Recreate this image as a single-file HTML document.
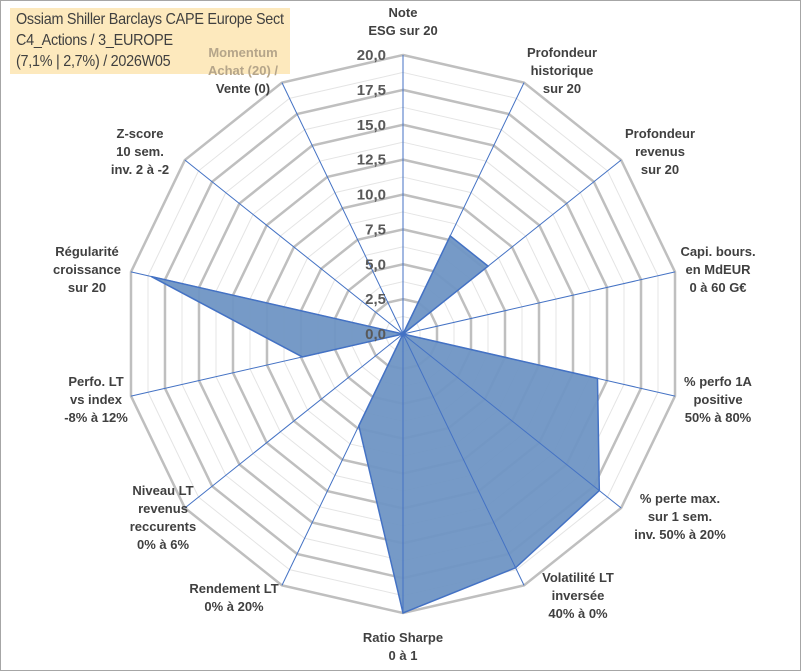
<!DOCTYPE html>
<html><head><meta charset="utf-8"><style>
body{margin:0;background:#fff;font-family:"Liberation Sans",Arial,sans-serif}
#wrap{position:relative;width:801px;height:671px;overflow:hidden;font-family:"Liberation Sans",Arial,sans-serif}
svg{position:absolute;left:0;top:0}
</style></head><body>
<div id="wrap">
<svg id="chart" width="801" height="671"></svg>
<div style="position:absolute;left:16px;top:9px;font-family:'Liberation Sans',Arial,sans-serif;font-size:16px;line-height:21px;color:#404040;letter-spacing:-0.3px;transform:scaleX(0.9);transform-origin:left top;white-space:nowrap">Ossiam Shiller Barclays CAPE Europe Sect<br>C4_Actions / 3_EUROPE<br>(7,1% | 2,7%) / 2026W05</div>
</div>
<script>
const categories=[["Note","ESG sur 20"],["Profondeur","historique","sur 20"],["Profondeur","revenus","sur 20"],["Capi. bours.","en MdEUR","0 à 60 G€"],["% perfo 1A","positive","50% à 80%"],["% perte max.","sur 1 sem.","inv. 50% à 20%"],["Volatilité LT","inversée","40% à 0%"],["Ratio Sharpe","0 à 1"],["Rendement LT","0% à 20%"],["Niveau LT","revenus","reccurents","0% à 6%"],["Perfo. LT","vs index","-8% à 12%"],["Régularité","croissance","sur 20"],["Z-score","10 sem.","inv. 2 à -2"],["Momentum","Achat (20) /","Vente (0)"]];
const values=[0,7.8,7.8,0,14.3,18,18.6,20,7.3,0,7.4,18.5,0,0];
const tickLabels=["0,0","2,5","5,0","7,5","10,0","12,5","15,0","17,5","20,0"];
const maxV=20;
const labelPos=[[403,12],[562,52],[660,133],[718,251],[718,381],[680,498],[578,577],[403,637],[234,588],[163,490],[96,381],[87,251],[140,133],[243,52]];
const NS="http://www.w3.org/2000/svg";
const svg=document.getElementById('chart');
const cx=403,cy=334,R=279,N=categories.length;
function pt(i,v){const a=i*2*Math.PI/N;const r=v/maxV*R;return [cx+r*Math.sin(a),cy-r*Math.cos(a)];}
function mk(t,attrs,parent){const e=document.createElementNS(NS,t);for(const k in attrs)e.setAttribute(k,attrs[k]);(parent||svg).appendChild(e);return e;}
let e=mk('rect',{x:0.5,y:0.5,width:800,height:670,fill:'#fff',stroke:'#a6a6a6'});


e=mk('rect',{x:10,y:8,width:280,height:66,fill:'#fde9bd'});


for(let k=1;k<16;k+=2){const v=k*1.25;const p=[];for(let i=0;i<N;i++)p.push(pt(i,v).join(','));
e=mk('polygon',{points:p.join(' '),fill:'none',stroke:'#e4e4e4','stroke-width':1});

}
for(let k=1;k<tickLabels.length;k++){const v=k*2.5;const p=[];for(let i=0;i<N;i++)p.push(pt(i,v).join(','));
e=mk('polygon',{points:p.join(' '),fill:'none',stroke:'#bfbfbf','stroke-width':2.5});

}
const sp=values.map((v,i)=>pt(i,v).join(',')).join(' ');
e=mk('polygon',{points:sp,fill:'#6f95c4',stroke:'#4472c4','stroke-width':1.5,'fill-opacity':0.95});


for(let i=0;i<N;i++){const q=pt(i,maxV);
e=mk('line',{x1:cx,y1:cy,x2:q[0],y2:q[1],stroke:'#4472c4','stroke-width':1});

}
tickLabels.forEach((t,k)=>{const y=cy-k*2.5/maxV*R;
e=mk('text',{x:386,y:y+5,'text-anchor':'end','font-size':15,'font-weight':'bold',fill:'#595959'});
e.textContent=t;

});
categories.forEach((lines,i)=>{const [x,y]=labelPos[i];
const g=mk('text',{x:x,y:y,'text-anchor':'middle','font-size':13,'font-weight':'bold',fill:'#404040'});


lines.forEach((l,j)=>{const ts=mk('tspan',{x:x,y:y+5+j*18},g);ts.textContent=l;if(i===13&&j<2)ts.setAttribute('fill','#b5a58a');});});
</script>
</body></html>
